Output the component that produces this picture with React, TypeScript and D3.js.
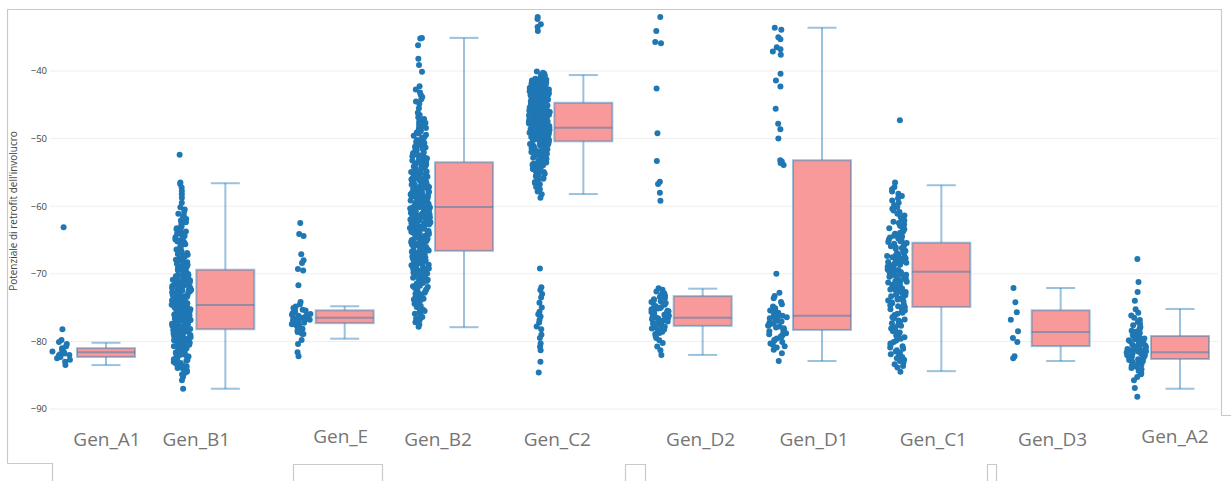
import React from "react";
import * as d3 from "d3";

const categories = ["Gen_A1", "Gen_B1", "Gen_E", "Gen_B2", "Gen_C2", "Gen_D2", "Gen_D1", "Gen_C1", "Gen_D3", "Gen_A2"];

// box statistics
const upperFence = [-80.2, -56.6, -74.8, -35.1, -40.6, -72.2, -33.6, -56.9, -72.1, -75.2];
const q3 = [-81.0, -69.4, -75.4, -53.5, -44.7, -73.3, -53.2, -65.4, -75.4, -79.2];
const median = [-81.6, -74.6, -76.5, -60.1, -48.4, -76.5, -76.2, -69.7, -78.6, -81.6];
const q1 = [-82.3, -78.2, -77.3, -66.6, -50.4, -77.7, -78.3, -74.9, -80.7, -82.6];
const lowerFence = [-83.5, -87.0, -79.6, -77.9, -58.2, -82.0, -82.9, -84.4, -82.9, -87.0];

// individually readable points
const sparseA1 = [-63.1, -78.2, -79.8, -80.1, -80.4, -80.7, -81.0, -81.2, -81.3, -81.5, -81.6, -81.8, -81.9, -82.0, -82.1, -82.3, -82.5, -82.7, -83.0, -83.5];
const sparseB1 = [-52.4, -56.5, -56.7, -87.0];
const sparseE = [-62.5, -64.1, -64.4, -67.1, -68.0, -68.4, -69.3, -69.5, -71.7, -78.6, -78.9, -79.8, -80.4, -81.6, -82.2];
const sparseB2 = [-35.1, -35.2, -36.2, -38.2, -39.1, -40.1];
const sparseC2 = [-32.0, -32.3, -33.1, -33.5, -34.1, -69.2, -72.0, -72.4, -73.0, -73.5, -74.3, -75.0, -75.6, -76.0, -76.3, -76.8, -77.2, -77.8, -78.2, -79.0, -79.5, -80.3, -80.8, -81.3, -83.0, -84.6];
const sparseD2 = [-32.0, -34.1, -35.7, -35.9, -42.6, -49.2, -53.3, -56.4, -56.7, -58.0, -59.2, -81.3, -82.0];
const sparseD1 = [-33.6, -33.9, -35.0, -35.3, -36.5, -36.8, -37.1, -37.6, -40.4, -41.4, -42.3, -45.6, -47.8, -48.6, -50.0, -53.2, -53.4, -53.6, -53.9, -70.0, -72.8, -73.3, -73.6, -82.9];
const sparseC1 = [-47.3];
const sparseD3 = [-72.1, -74.2, -75.7, -76.8, -78.5, -79.5, -80.1, -82.2, -82.5];
const sparseA2 = [-67.8, -71.2, -72.7, -74.0, -86.9, -88.2];

// dense clouds: counts of points per 1-unit band, going down from the top value
const denseTop = [0, -57, -74, -42, -40, -72, -74, -56, 0, -75];
const denseB1 = [2, 2, 1, 3, 4, 4, 6, 6, 7, 6, 8, 9, 10, 12, 14, 16, 18, 18, 18, 16, 14, 14, 14, 13, 12, 10, 8, 5, 2];
const denseE = [3, 8, 12, 10, 4];
const denseB2 = [2, 3, 3, 1, 3, 5, 6, 6, 7, 8, 9, 10, 12, 13, 14, 15, 16, 17, 17, 17, 16, 16, 15, 14, 14, 13, 13, 12, 11, 10, 8, 8, 6, 5, 4, 3];
const denseC2 = [6, 18, 22, 24, 26, 26, 26, 26, 25, 24, 22, 18, 14, 12, 10, 8, 6, 3, 2];
const denseD2 = [4, 6, 8, 10, 12, 10, 6, 3, 2];
const denseD1 = [3, 6, 8, 8, 7, 6, 5, 2];
const denseC1 = [1, 3, 3, 3, 4, 4, 5, 6, 7, 8, 9, 10, 10, 10, 10, 9, 8, 8, 7, 6, 6, 5, 5, 4, 5, 5, 5, 4, 1];
const denseA2 = [2, 3, 4, 6, 8, 10, 12, 10, 6, 4, 2];

const yTicks = [-40, -50, -60, -70, -80, -90];

const sparseAll = [sparseA1, sparseB1, sparseE, sparseB2, sparseC2, sparseD2, sparseD1, sparseC1, sparseD3, sparseA2];
const denseAll = [[], denseB1, denseE, denseB2, denseC2, denseD2, denseD1, denseC1, [], denseA2];

// label placement tweaks (layout only)
const labelDx = [1, -29, -4, -26, -26, -2, -8, -8, -8, -5];
const labelDy = [0, 0, -3, 0, 0, 0, 0, 0, 0, -3];

function groupValues(i: number): number[] {
  const vals = [...sparseAll[i]];
  const counts = denseAll[i] as number[];
  counts.forEach((n, b) => {
    const top = denseTop[i] - b;
    for (let j = 0; j < n; j++) vals.push(top - (j + 0.5) / n);
  });
  return vals;
}

// deterministic horizontal jitter (position only)
function hash01(a: number, b: number): number {
  const s = Math.sin(a * 12.9898 + b * 78.233) * 43758.5453;
  return s - Math.floor(s);
}

export default function App() {
  const W = 1231, H = 481;
  const x = d3.scalePoint<string>().domain(categories).range([106, 1180]);
  const y = d3.scaleLinear().domain([-40, -90]).range([71, 409]);
  const boxHalf = 29;
  const ptOffset = -44;
  const maxSpread = 10.5;
  const lineColor = "rgba(31,119,180,0.45)";
  const frame = "#c9c9c9";
  const fmt = (v: number) => (v < 0 ? "\u2212" + Math.abs(v) : String(v));

  const groups = categories.map((c, i) => {
    const vals = groupValues(i);
    const dens = vals.map((v) => vals.filter((u) => Math.abs(u - v) <= 0.75).length);
    const maxD = d3.max(dens) || 1;
    const pts = vals.map((v, k) => {
      const r = hash01(k + 1, i + 1);
      const f = Math.min(1, Math.sqrt(dens[k] / maxD));
      return { cx: (x(c) as number) + ptOffset + (r - 0.5) * 2 * maxSpread * f, cy: y(v) };
    });
    return { c, i, pts };
  });

  return (
    <div style={{ position: "absolute", left: 0, top: 0 }}>
      <svg width={W} height={H} style={{ display: "block", background: "#fff" }}>
        {/* frame pieces */}
        <g stroke={frame} strokeWidth={1.2} fill="none">
          <path d={`M7.5,463.5 V9.5 H1221.5 V415.5 H1231`} />
          <path d={`M7.5,463.5 H52.5 V481`} />
          <path d={`M293.5,481 V464.5 H382.5 V481`} />
          <path d={`M625.5,481 V464.5 H645.5 V481`} />
          <path d={`M987.5,481 V464.5 H996.5 V481`} />
        </g>
        {/* grid */}
        <g>
          {yTicks.map((t) => (
            <g key={t}>
              <line x1={50} x2={1218} y1={y(t)} y2={y(t)} stroke="#eeeeee" strokeWidth={1} />
              <text x={47} y={y(t)} dy="0.35em" textAnchor="end" fontSize={9.5} fill="#444" fontFamily="'Open Sans', sans-serif">
                {fmt(t)}
              </text>
            </g>
          ))}
        </g>
        <text
          transform={`translate(17,${211}) rotate(-90)`}
          textAnchor="middle"
          fontSize={10}
          fill="#444"
          fontFamily="'Open Sans', sans-serif"
        >
          Potenziale di retrofit dell'involucro
        </text>
        {/* boxes */}
        {groups.map(({ c, i }) => {
          const cx = x(c) as number;
          return (
            <g key={"b" + c}>
              <line x1={cx} x2={cx} y1={y(upperFence[i])} y2={y(q3[i])} stroke={lineColor} strokeWidth={2} />
              <line x1={cx} x2={cx} y1={y(q1[i])} y2={y(lowerFence[i])} stroke={lineColor} strokeWidth={2} />
              <line x1={cx - boxHalf / 2} x2={cx + boxHalf / 2} y1={y(upperFence[i])} y2={y(upperFence[i])} stroke={lineColor} strokeWidth={2} />
              <line x1={cx - boxHalf / 2} x2={cx + boxHalf / 2} y1={y(lowerFence[i])} y2={y(lowerFence[i])} stroke={lineColor} strokeWidth={2} />
              <rect x={cx - boxHalf} width={boxHalf * 2} y={y(q3[i])} height={y(q1[i]) - y(q3[i])} fill="#f99a9a" />
              <rect
                x={cx - boxHalf}
                width={boxHalf * 2}
                y={y(q3[i])}
                height={y(q1[i]) - y(q3[i])}
                fill="none"
                stroke={lineColor}
                strokeWidth={2}
              />
              <line x1={cx - boxHalf} x2={cx + boxHalf} y1={y(median[i])} y2={y(median[i])} stroke={lineColor} strokeWidth={2} />
            </g>
          );
        })}
        {/* points */}
        {groups.map(({ c, pts }) => (
          <g key={"p" + c} fill="#1f77b4">
            {pts.map((p, k) => (
              <circle key={k} cx={p.cx} cy={p.cy} r={3} />
            ))}
          </g>
        ))}
        {/* category labels */}
        {categories.map((c, i) => (
          <text
            key={"l" + c}
            x={(x(c) as number) + labelDx[i]}
            y={446 + labelDy[i]}
            textAnchor="middle"
            fontSize={19}
            fill="#757575"
            fontFamily="'Open Sans', sans-serif"
          >
            {c}
          </text>
        ))}
      </svg>
    </div>
  );
}
